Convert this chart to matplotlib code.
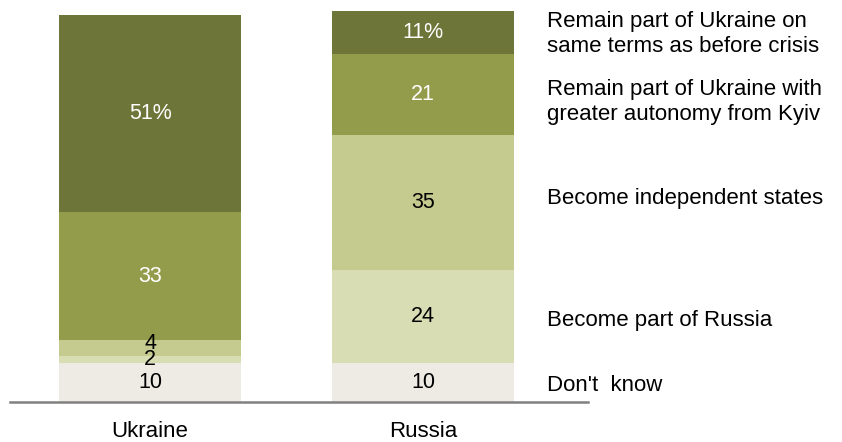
import matplotlib.pyplot as plt
import matplotlib.transforms as mtransforms
import numpy as np

plt.rcParams['font.family'] = ['Liberation Sans', 'DejaVu Sans']

# data
categories = ["Ukraine", "Russia"]
answers = ["Don't  know", "Become part of Russia", "Become independent states",
           "Remain part of Ukraine with\ngreater autonomy from Kyiv",
           "Remain part of Ukraine on\nsame terms as before crisis"]
ukraine = [10, 2, 4, 33, 51]
russia = [10, 24, 35, 21, 11]

colors = ["#eeebe4", "#d9ddb4", "#c5cb8f", "#939c4a", "#6e7538"]
text_colors = ["black", "black", "black", "white", "white"]

fig = plt.figure(figsize=(8.42, 4.42), dpi=100)
ax = fig.add_axes([10 / 842, 40 / 442, 578 / 842, 391 / 442])

values = np.array([ukraine, russia])
x = np.arange(len(categories))
bottoms = np.zeros(len(categories))
for i in range(len(answers)):
    seg = values[:, i]
    ax.bar(x, seg, bottom=bottoms, width=0.667, color=colors[i], linewidth=0)
    for j in range(len(categories)):
        txt = str(seg[j]) + ("%" if i == len(answers) - 1 else "")
        dy = 0
        if j == 0 and seg[j] < 5:
            dy = 1.2 if i == 2 else 0
        ax.text(x[j], bottoms[j] + seg[j] / 2 + dy, txt, ha="center", va="center",
                fontsize=15.5, color=text_colors[i])
    bottoms += seg

ax.set_xlim(-0.513, 1.604)
ax.set_ylim(0, 101)
ax.set_yticks([])
ax.set_xticks(x)
ax.set_xticklabels(categories, fontsize=16)
ax.tick_params(axis="x", length=0, pad=14)
for s in ["top", "left", "right"]:
    ax.spines[s].set_visible(False)
ax.spines["bottom"].set_color("#808080")
ax.spines["bottom"].set_linewidth(1.8)

# answer labels beside the Russia bar
trans = mtransforms.blended_transform_factory(fig.transFigure, ax.transData)
offsets = [-0.8, -1, 1, -2, -0.5]
mids = np.cumsum(russia) - np.array(russia) / 2
for i, lab in enumerate(answers):
    fig.text(547 / 842, mids[i] + offsets[i], lab, transform=trans,
             ha="left", va="center", fontsize=16, linespacing=1.22)

fig.savefig("out.png", dpi=100)
